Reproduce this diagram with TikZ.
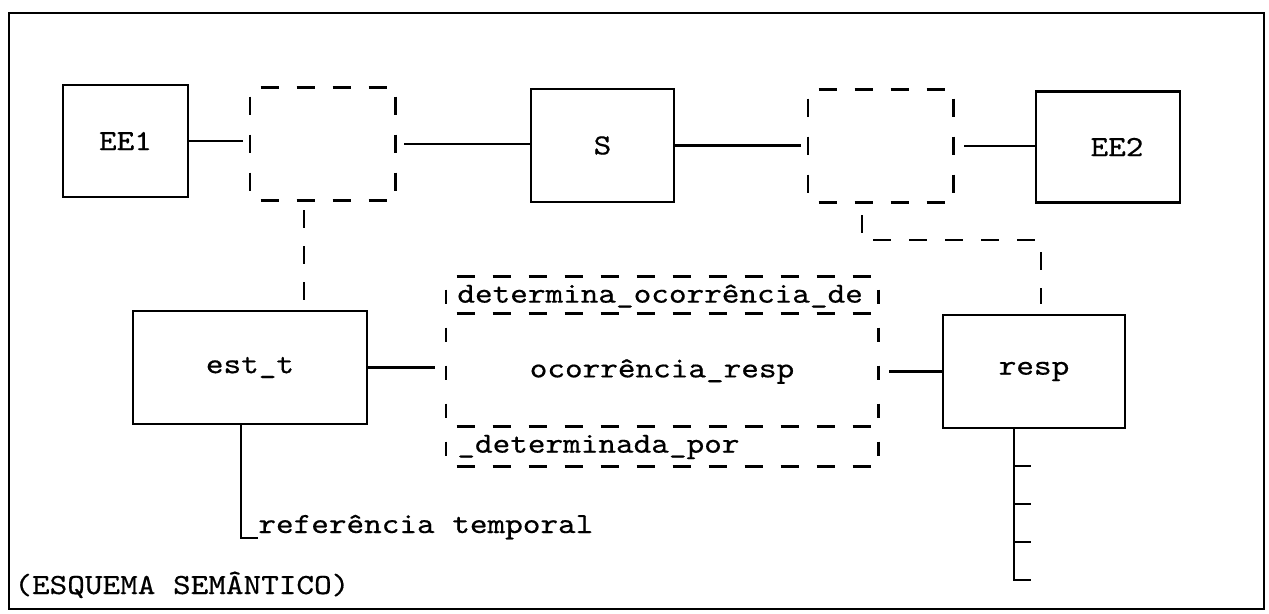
\documentclass[tikz,border=0pt]{standalone}
\usepackage{fontspec}
\newfontfamily\twfont[FakeStretch=1.15,FakeBold=0.5]{lmmono10-regular.otf}
\usetikzlibrary{calc}
\newcommand\lblfont{\twfont\fontsize{14.6}{17}\selectfont}
\begin{document}
\begin{tikzpicture}[x=0.5pt,y=-0.5pt,
  solidbox/.style={draw, line width=1.3pt, inner sep=0pt, font=\lblfont},
  ghost/.style={inner sep=0pt, font=\lblfont},
  lbl/.style={inner sep=0pt, font=\lblfont},
  conn/.style={line width=1.4pt},
  hdash/.style={line width=1.5pt, dash pattern=on 9pt off 9pt},
  vdash/.style={line width=1.1pt, dash pattern=on 9pt off 10pt},
  vdashm/.style={line width=1.1pt, dash pattern=on 7pt off 12pt},
  dconn/.style={line width=1.3pt, dash pattern=on 9pt off 9pt}]
\useasboundingbox (0,0) rectangle (1269,614);
\draw[line width=1.2pt] (9,13) rectangle (1264,609);

% top row
\node[solidbox, minimum width=62.5pt, minimum height=56pt] (EE1) at (125.5,141) {EE1};
\node[ghost, minimum width=72.5pt, minimum height=56pt] (D1) at (322.5,144) {};
\node[solidbox, minimum width=71.5pt, minimum height=56.5pt] (S) at (602.5,145.5) {S};
\node[ghost, minimum width=72.5pt, minimum height=56pt] (D2) at (880.5,146) {};
\node[solidbox, minimum width=72pt, minimum height=55.5pt] (EE2) at (1108,147) {\hspace*{9pt}EE2};

% second row
\node[solidbox, minimum width=117pt, minimum height=56.5pt] (est) at (250,367.5) {est\_t};
\node[ghost, minimum width=216pt, minimum height=94.5pt] (mid) at (662,371.5) {ocorrência\_resp};
\node[solidbox, minimum width=91pt, minimum height=56.5pt] (resp) at (1034,371.5) {resp};
\node[lbl, anchor=west] (dtop) at (457,296) {determina\_ocorrência\_de};
\node[lbl, anchor=west] (dbot) at (457,447) {\_determinada\_por};

% labels
\node[lbl, anchor=base west] (ref) at (258,533) {referência temporal};
\node[lbl, anchor=base west] (title) at (14,594) {(ESQUEMA SEMÂNTICO)};

% dashed small boxes
\foreach \n in {D1,D2}{
  \draw[hdash, shorten <=5.5pt, shorten >=3pt] (\n.north west) -- (\n.north east);
  \draw[hdash, shorten <=5.5pt, shorten >=3pt] (\n.south west) -- (\n.south east);
  \draw[vdash, shorten <=4.5pt, shorten >=3pt] (\n.north west) -- (\n.south west);
  \draw[vdash, shorten <=4.5pt, shorten >=3pt] (\n.north east) -- (\n.south east);
}

% dashed middle box
\draw[hdash, shorten <=5.5pt] (mid.north west) -- (mid.north east);
\draw[hdash, shorten <=5.5pt] ([yshift=-18.5pt]mid.north west) -- ([yshift=-18.5pt]mid.north east);
\draw[hdash, shorten <=5.5pt] ([yshift=-75pt]mid.north west) -- ([yshift=-75pt]mid.north east);
\draw[hdash, shorten <=5.5pt] (mid.south west) -- (mid.south east);
\draw[vdashm, shorten <=6.5pt, shorten >=3pt] (mid.north west) -- (mid.south west);
\draw[vdashm, shorten <=6.5pt, shorten >=3pt] (mid.north east) -- (mid.south east);

% solid connectors
\draw[conn, shorten >=3.5pt] (EE1.east) -- (EE1.east -| D1.west);
\draw[conn, shorten <=4.5pt] (D1.east) -- (D1.east -| S.west);
\draw[conn, shorten >=3.5pt] (S.east) -- (S.east -| D2.west);
\draw[conn, shorten <=5.5pt] (D2.east) -- (D2.east -| EE2.west);
\draw[conn, shorten >=5.5pt] (est.east) -- (est.east -| mid.west);
\draw[conn, shorten <=5.5pt] (mid.east) -- (mid.east -| resp.west);

% dashed connectors
\coordinate (p1) at ([xshift=-9.25pt]D1.south);
\draw[dconn, shorten <=5pt, shorten >=5pt] (p1) -- (p1 |- est.north);
\coordinate (q1) at ([xshift=-9.25pt]D2.south);
\coordinate (q2) at ([xshift=3.5pt]resp.north);
\draw[dconn, shorten <=6.5pt, shorten >=5pt] (q1) -- (q1 |- 0,240) -| (q2);

% est_t reference line
\coordinate (rc) at (241,538);
\draw[conn] (est.south -| rc) -- (rc) -- (ref.west |- rc);

% resp scale
\coordinate (rb) at (1014,580);
\draw[conn] (resp.south -| rb) -- (rb) -- ++(17,0);
\foreach \y in {466,504,542} \draw[conn] (1014,\y) -- ++(17,0);
\end{tikzpicture}
\end{document}
